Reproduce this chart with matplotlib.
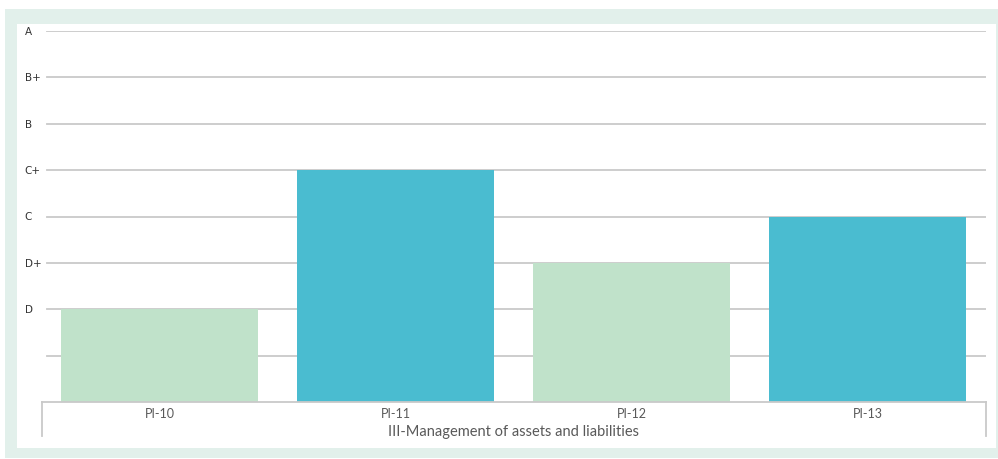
import matplotlib
matplotlib.use('Agg')
import matplotlib.pyplot as plt
from matplotlib.patches import Rectangle

categories = ['PI-10', 'PI-11', 'PI-12', 'PI-13']
scores = [2, 5, 3, 4]
grade_ticks = [1, 2, 3, 4, 5, 6, 7, 8]
grade_labels = ['', 'D', 'D+', 'C', 'C+', 'B', 'B+', 'A']
group_label = 'III-Management of assets and liabilities'

light_green = '#c0e2ca'
teal = '#4abcd0'
bar_colors = [light_green, teal, light_green, teal]

plt.rcParams['font.family'] = ['Lato', 'DejaVu Sans']

W, H = 998, 459
fig = plt.figure(figsize=(W / 100, H / 100), dpi=100)
fig.patch.set_facecolor('white')

# frame around the chart
fig.patches.append(Rectangle((5 / W, 1 - 458 / H), 993 / W, 449 / H,
                             transform=fig.transFigure, facecolor='#e2f0eb',
                             edgecolor='none', zorder=-10))
fig.patches.append(Rectangle((17 / W, 1 - 448 / H), 979 / W, 424 / H,
                             transform=fig.transFigure, facecolor='white',
                             edgecolor='none', zorder=-9))

x0, x1, ytop, ybot = 41.5, 985.5, 31, 402
ax = fig.add_axes([x0 / W, 1 - ybot / H, (x1 - x0) / W, (ybot - ytop) / H])
ax.set_facecolor('none')
ax.set_zorder(5)

ax.bar(range(len(categories)), scores, width=0.835, color=bar_colors, zorder=2)
ax.set_xlim(-0.5, len(categories) - 0.5)
ax.set_ylim(0, 8)

for y in grade_ticks:
    ax.axhline(y, xmin=(47 - x0) / (x1 - x0), xmax=1, color='#c9c9c9',
               lw=1.3, zorder=1)

for s in ['top', 'left', 'right']:
    ax.spines[s].set_visible(False)
ax.spines['bottom'].set_color('#c9c9c9')
ax.spines['bottom'].set_linewidth(1.3)

ax.set_yticks(grade_ticks)
ax.set_yticklabels(grade_labels, fontsize=7.5, color='#333333',
                   family=['DejaVu Sans'])
ax.tick_params(axis='y', length=0, pad=12)
for lab in ax.get_yticklabels():
    lab.set_horizontalalignment('left')

ax.set_xticks(range(len(categories)))
ax.set_xticklabels(categories, fontsize=9, color='#595959')
ax.tick_params(axis='x', length=0, pad=4)

# group brackets under the axis
hh = (ybot - ytop)
for xa in [0, 1]:
    ax.plot([xa, xa], [0, -34 / hh], transform=ax.transAxes, clip_on=False,
            color='#c9c9c9', lw=1.3)
ax.text(0.5, -30 / hh, group_label, transform=ax.transAxes, ha='center',
        va='center', fontsize=10.5, color='#595959')

plt.savefig('out.png', dpi=100)
